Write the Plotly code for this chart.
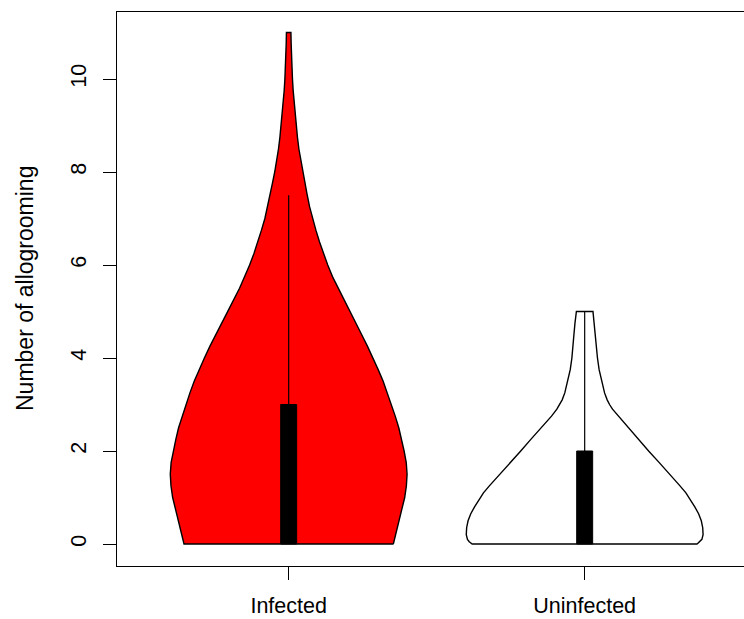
import plotly.graph_objects as go

# Groups and summary statistics
groups = ["Infected", "Uninfected"]
positions = [1, 2]
q1 = [0, 0]
q3 = [3, 2]
medians = [1, 1]
whisker_lo = [0, 0]
whisker_hi = [7.5, 5]
fill_colors = ["#ff0000", "#ffffff"]

# Kernel density outline of each group (relative density, peak = 1)
inf_y = [0, 0.25, 0.5, 0.75, 1.0, 1.25, 1.5, 1.75, 2.0, 2.25, 2.5, 2.75,
         3.0, 3.25, 3.5, 3.75, 4.0, 4.25, 4.5, 4.75, 5.0, 5.25, 5.5, 5.75,
         6.0, 6.25, 6.5, 6.75, 7.0, 7.25, 7.5, 7.75, 8.0, 8.25, 8.5, 8.75,
         9.0, 9.25, 9.5, 9.75, 10.0, 10.25, 10.5, 10.75, 11.0]
inf_dens = [0.884, 0.910, 0.934, 0.956, 0.980, 0.994, 1.0, 0.993, 0.975,
            0.953, 0.930, 0.900, 0.868, 0.834, 0.798, 0.756, 0.712, 0.666,
            0.617, 0.567, 0.517, 0.465, 0.415, 0.370, 0.330, 0.293, 0.260,
            0.230, 0.201, 0.177, 0.157, 0.138, 0.118, 0.100, 0.086, 0.074,
            0.064, 0.055, 0.046, 0.038, 0.032, 0.027, 0.023, 0.021, 0.019]

uninf_y = [0, 0.05, 0.1, 0.2, 0.35, 0.5, 0.65, 0.8, 0.95, 1.1, 1.25, 1.5,
           1.75, 2.0, 2.25, 2.5, 2.75, 2.9, 3.0, 3.1, 3.25, 3.5, 3.75, 4.0,
           4.25, 4.5, 4.75, 4.9, 5.0]
uninf_dens = [0.950, 0.975, 0.990, 1.0, 0.997, 0.985, 0.962, 0.930, 0.895,
              0.855, 0.805, 0.720, 0.630, 0.540, 0.455, 0.370, 0.280, 0.235,
              0.210, 0.190, 0.168, 0.142, 0.122, 0.108, 0.099, 0.091, 0.082,
              0.076, 0.070]

y_ticks = [0, 2, 4, 6, 8, 10]

HALF_WIDTH = 0.4   # violin half width at peak density
BOX_WIDTH = 0.054  # width of the quartile box
FONT = "Liberation Sans, Arial, sans-serif"
FS = 21.5

fig = go.Figure()

outlines = [(inf_y, inf_dens), (uninf_y, uninf_dens)]
for pos, (ys, ds), col in zip(positions, outlines, fill_colors):
    right = [pos + HALF_WIDTH * d for d in ds]
    left = [pos - HALF_WIDTH * d for d in ds]
    xs = right + left[::-1] + [right[0]]
    yy = ys + ys[::-1] + [ys[0]]
    fig.add_trace(go.Scatter(x=xs, y=yy, mode="lines", fill="toself",
                             fillcolor=col, line=dict(color="black", width=1.4),
                             hoverinfo="skip", showlegend=False))

for i, pos in enumerate(positions):
    # whisker
    fig.add_trace(go.Scatter(x=[pos, pos], y=[whisker_lo[i], whisker_hi[i]],
                             mode="lines", line=dict(color="black", width=1.2),
                             hoverinfo="skip", showlegend=False))
    # quartile box
    fig.add_shape(type="rect", xref="x", yref="y",
                  x0=pos - BOX_WIDTH / 2, x1=pos + BOX_WIDTH / 2,
                  y0=q1[i], y1=q3[i], fillcolor="black",
                  line=dict(color="black", width=1))

# medians
fig.add_trace(go.Scatter(x=positions, y=medians, mode="markers",
                         marker=dict(color="white", size=9, line=dict(width=0)),
                         hoverinfo="skip", showlegend=False))

fig.update_layout(
    width=744, height=619,
    margin=dict(l=117, r=0, t=12, b=53),
    plot_bgcolor="white", paper_bgcolor="white",
    font=dict(family=FONT, size=FS, color="black"),
    xaxis=dict(range=[0.42, 0.42 + 627 / 296], tickvals=positions,
               ticktext=groups, ticks="outside", ticklen=13, tickwidth=1,
               tickcolor="black", showline=True, linecolor="black",
               linewidth=1, mirror=True, showgrid=False, zeroline=False,
               automargin=False, ticklabelstandoff=7,
               tickfont=dict(size=FS)),
    yaxis=dict(range=[-0.473, 11.441], tickvals=y_ticks, ticks="outside",
               ticklen=13, tickwidth=1, tickcolor="black", showline=True,
               linecolor="black", linewidth=1, mirror=False, showgrid=False,
               zeroline=False, automargin=False, tickangle=-90,
               ticklabelstandoff=8, tickfont=dict(size=FS)),
    annotations=[dict(text="Number of allogrooming", textangle=-90,
                      xref="paper", yref="paper", x=(25 - 117) / 627,
                      y=(566 - 289) / 554, xanchor="center", yanchor="middle",
                      showarrow=False, font=dict(size=23))],
)

fig.write_html("out.html")
